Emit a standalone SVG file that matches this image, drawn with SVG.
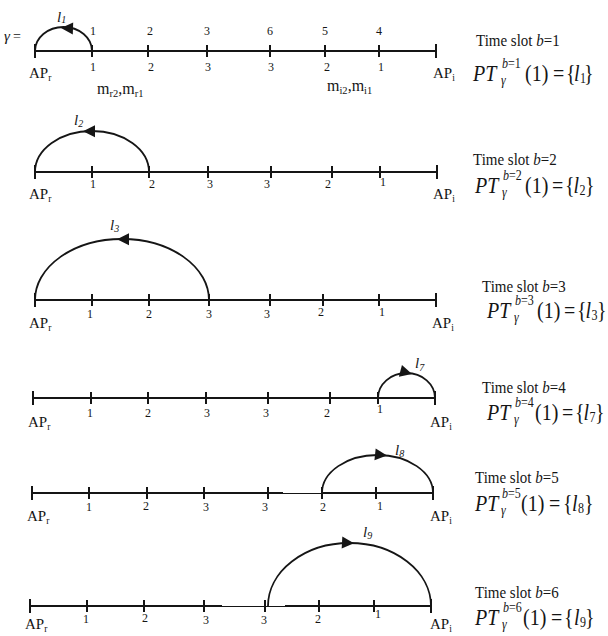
<svg xmlns="http://www.w3.org/2000/svg" xmlns:xlink="http://www.w3.org/1999/xlink" width="608" height="636" viewBox="0 0 608 636">
<style>
.ln{stroke:#151515;stroke-width:2;fill:none}
.thin{stroke:#151515;stroke-width:1;fill:none}
.tk{stroke:#151515;stroke-width:2}
.arc{stroke:#151515;stroke-width:1.8;fill:none}
text{font-family:"Liberation Serif","Times New Roman",serif;fill:#151515}
.num{font-size:12px;text-anchor:middle;fill:#2a2a2a}
.ap{font-size:15px}
.sb{font-size:9.5px}
.ml{font-size:16px}
.msb{font-size:10.5px}
.it{font-style:italic}
.ts{font-size:15px}
.lab{font-size:15px;font-style:italic}
.f{font-size:20px}
.fs{font-size:12px}
</style>
<defs>
<path id="ah" d="M0,0 L-12,-6 L-12,6 Z" fill="#151515"/>
</defs>

<!-- Row 1 -->
<g id="row1">
<line class="ln" x1="35" y1="51" x2="436" y2="51"/>
<path class="tk" d="M35,44V58M92,45V57M148,45V57M207,45V57M270,45V57M325,45V57M379,45V57M436,44V58"/>
<text class="it" x="4" y="41" font-size="15">γ</text><text x="13" y="41" font-size="14">=</text>
<g class="num"><text x="93" y="35">1</text><text x="150" y="35">2</text><text x="207" y="35">3</text><text x="270" y="35">6</text><text x="325" y="35">5</text><text x="379" y="35">4</text></g>
<g class="num"><text x="93" y="71">1</text><text x="151" y="71">2</text><text x="208" y="71">3</text><text x="271" y="71">3</text><text x="327" y="71">2</text><text x="381" y="71">1</text></g>
<text class="ap" x="29" y="78">AP<tspan class="sb" dy="3">r</tspan></text>
<text class="ap" x="433" y="78">AP<tspan class="sb" dy="3">i</tspan></text>
<text class="ml" x="97" y="94">m<tspan class="msb" dy="3">r2</tspan><tspan dy="-3">,m</tspan><tspan class="msb" dy="3">r1</tspan></text>
<text class="ml" x="327" y="91">m<tspan class="msb" dy="3">i2</tspan><tspan dy="-3">,m</tspan><tspan class="msb" dy="3">i1</tspan></text>
</g>

<!-- Row 2 -->
<g id="row2">
<line class="ln" x1="35" y1="172" x2="437" y2="172"/>
<path class="tk" d="M35,165V179M92,166V178M149,166V178M208,166V178M271,166V178M332,166V178M380,166V178M437,165V179"/>
<g class="num"><text x="93" y="188">1</text><text x="152" y="188">2</text><text x="210" y="188">3</text><text x="267" y="188">3</text><text x="328" y="188">2</text><text x="383" y="186">1</text></g>
<text class="ap" x="29" y="199">AP<tspan class="sb" dy="3">r</tspan></text>
<text class="ap" x="433" y="199">AP<tspan class="sb" dy="3">i</tspan></text>
</g>

<!-- Row 3 -->
<g id="row3">
<line class="ln" x1="35" y1="300" x2="436" y2="300"/>
<path class="tk" d="M35,293V307M92,294V306M149,294V306M209,294V306M270,294V306M323,294V306M379,294V306M436,293V307"/>
<g class="num"><text x="90" y="318">1</text><text x="149" y="318">2</text><text x="209" y="318">3</text><text x="267" y="318">3</text><text x="321" y="316">2</text><text x="382" y="316">1</text></g>
<text class="ap" x="29" y="328">AP<tspan class="sb" dy="3">r</tspan></text>
<text class="ap" x="432" y="328">AP<tspan class="sb" dy="3">i</tspan></text>
</g>

<!-- Row 4 -->
<g id="row4">
<line class="ln" x1="33" y1="398" x2="435" y2="398"/>
<path class="tk" d="M33,391V405M91,392V404M148,392V404M206,392V404M268,392V404M330,392V404M378,392V404M435,391V405"/>
<g class="num"><text x="90" y="417">1</text><text x="148" y="417">2</text><text x="207" y="417">3</text><text x="266" y="417">3</text><text x="327" y="417">2</text><text x="380" y="413">1</text></g>
<text class="ap" x="28" y="427">AP<tspan class="sb" dy="3">r</tspan></text>
<text class="ap" x="430" y="427">AP<tspan class="sb" dy="3">i</tspan></text>
</g>

<!-- Row 5 -->
<g id="row5">
<line class="ln" x1="32" y1="493" x2="283" y2="493"/>
<line class="thin" x1="283" y1="493.5" x2="322" y2="493.5"/>
<line class="ln" x1="322" y1="493" x2="433" y2="493"/>
<path class="tk" d="M32,486V500M89,487V499M147,487V499M204,487V499M268,487V499M322,487V499M376,487V499M433,486V500"/>
<g class="num"><text x="89" y="511">1</text><text x="146" y="510">2</text><text x="206" y="511">3</text><text x="265" y="511">3</text><text x="323" y="511">2</text><text x="380" y="510">1</text></g>
<text class="ap" x="27" y="521">AP<tspan class="sb" dy="3">r</tspan></text>
<text class="ap" x="430" y="521">AP<tspan class="sb" dy="3">i</tspan></text>
</g>

<!-- Row 6 -->
<g id="row6">
<line class="ln" x1="30" y1="606" x2="222" y2="606"/>
<line class="thin" x1="222" y1="606.5" x2="285" y2="606.5"/>
<line class="ln" x1="285" y1="606" x2="431" y2="606"/>
<path class="tk" d="M30,599V613M87,600V612M144,600V612M204,600V612M265,600V612M319,600V612M374,600V612M431,599V613"/>
<g class="num"><text x="86" y="623">1</text><text x="145" y="622">2</text><text x="206" y="624">3</text><text x="264" y="624">3</text><text x="318" y="623">2</text><text x="378" y="618">1</text></g>
<text class="ap" x="25" y="629">AP<tspan class="sb" dy="3">r</tspan></text>
<text class="ap" x="430" y="629">AP<tspan class="sb" dy="3">i</tspan></text>
</g>

<!-- Connectors (links) -->
<g id="links">
<path class="arc" d="M35,51 A28.5,24 0 0 1 92,51"/>
<use xlink:href="#ah" transform="translate(61,28) rotate(182)"/>
<path class="arc" d="M35,172 A57,41 0 0 1 149,172"/>
<use xlink:href="#ah" transform="translate(83,131.3) rotate(180)"/>
<path class="arc" d="M35,300 A87,61 0 0 1 209,300"/>
<use xlink:href="#ah" transform="translate(117,239.3) rotate(180)"/>
<path class="arc" d="M378,398 A28.5,25 0 0 1 435,398"/>
<use xlink:href="#ah" transform="translate(412,374) rotate(15)"/>
<path class="arc" d="M322,493 A55.5,38 0 0 1 433,493"/>
<use xlink:href="#ah" transform="translate(387,455.6) rotate(6)"/>
<path class="arc" d="M268,606 A81.5,63 0 0 1 431,606"/>
<use xlink:href="#ah" transform="translate(354,543.2) rotate(3)"/>
<text class="lab" x="57" y="22">l<tspan font-size="10" dy="1">1</tspan></text>
<text class="lab" x="74" y="125">l<tspan font-size="10" dy="2">2</tspan></text>
<text class="lab" x="110" y="230">l<tspan font-size="10" dy="2">3</tspan></text>
<text class="lab" x="415" y="368">l<tspan font-size="10" dy="3">7</tspan></text>
<text class="lab" x="395" y="455">l<tspan font-size="10" dy="2">8</tspan></text>
<text class="lab" x="363" y="537">l<tspan font-size="10" dy="2">9</tspan></text>
</g>

<!-- Right-side captions -->
<g id="cap1">
<g transform="translate(476,46) scale(1,1.15)"><text class="ts">Time slot <tspan class="it">b</tspan>=1</text></g>
<g transform="translate(473,81) scale(1,1.15)">
<text class="f it" x="0" y="0">PT</text><text class="fs" x="29" y="-11"><tspan class="it">b</tspan>=1</text><text class="fs it" x="28" y="3.5">γ</text>
<text class="f" x="52" y="0">(1)</text><text class="f" x="80" y="0">=</text><text class="f" x="93" y="0">{</text><text class="f it" x="101" y="0">l</text><text class="fs" x="107" y="2">1</text><text class="f" x="111" y="0">}</text>
</g>
</g>
<g id="cap2">
<g transform="translate(473,165) scale(1,1.15)"><text class="ts">Time slot <tspan class="it">b</tspan>=2</text></g>
<g transform="translate(475,193) scale(1,1.15)">
<text class="f it" x="0" y="0">PT</text><text class="fs" x="28" y="-11"><tspan class="it">b</tspan>=2</text><text class="fs it" x="27" y="3.5">γ</text>
<text class="f" x="50" y="0">(1)</text><text class="f" x="77" y="0">=</text><text class="f" x="90" y="0">{</text><text class="f it" x="98.5" y="0">l</text><text class="fs" x="104.5" y="2">2</text><text class="f" x="110" y="0">}</text>
</g>
</g>
<g id="cap3">
<g transform="translate(482,292) scale(1,1.15)"><text class="ts">Time slot <tspan class="it">b</tspan>=3</text></g>
<g transform="translate(487,318) scale(1,1.15)">
<text class="f it" x="0" y="0">PT</text><text class="fs" x="28" y="-11"><tspan class="it">b</tspan>=3</text><text class="fs it" x="27" y="3.5">γ</text>
<text class="f" x="50" y="0">(1)</text><text class="f" x="77" y="0">=</text><text class="f" x="90" y="0">{</text><text class="f it" x="98.5" y="0">l</text><text class="fs" x="104.5" y="2">3</text><text class="f" x="110" y="0">}</text>
</g>
</g>
<g id="cap4">
<g transform="translate(482,393) scale(1,1.15)"><text class="ts">Time slot <tspan class="it">b</tspan>=4</text></g>
<g transform="translate(487,420) scale(1,1.15)">
<text class="f it" x="0" y="0">PT</text><text class="fs" x="28" y="-11"><tspan class="it">b</tspan>=4</text><text class="fs it" x="27" y="3.5">γ</text>
<text class="f" x="48" y="0">(1)</text><text class="f" x="75" y="0">=</text><text class="f" x="88" y="0">{</text><text class="f it" x="96.5" y="0">l</text><text class="fs" x="102.5" y="2">7</text><text class="f" x="108" y="0">}</text>
</g>
</g>
<g id="cap5">
<g transform="translate(475,483) scale(1,1.15)"><text class="ts">Time slot <tspan class="it">b</tspan>=5</text></g>
<g transform="translate(475,511) scale(1,1.15)">
<text class="f it" x="0" y="0">PT</text><text class="fs" x="27" y="-11"><tspan class="it">b</tspan>=5</text><text class="fs it" x="26" y="3.5">γ</text>
<text class="f" x="46" y="0">(1)</text><text class="f" x="74" y="0">=</text><text class="f" x="88" y="0">{</text><text class="f it" x="97" y="0">l</text><text class="fs" x="103" y="2">8</text><text class="f" x="109" y="0">}</text>
</g>
</g>
<g id="cap6">
<g transform="translate(475,598) scale(1,1.15)"><text class="ts">Time slot <tspan class="it">b</tspan>=6</text></g>
<g transform="translate(475,625) scale(1,1.15)">
<text class="f it" x="0" y="0">PT</text><text class="fs" x="28" y="-11"><tspan class="it">b</tspan>=6</text><text class="fs it" x="27" y="3.5">γ</text>
<text class="f" x="48" y="0">(1)</text><text class="f" x="76" y="0">=</text><text class="f" x="89" y="0">{</text><text class="f it" x="99" y="0">l</text><text class="fs" x="105" y="2">9</text><text class="f" x="110" y="0">}</text>
</g>
</g>
</svg>
